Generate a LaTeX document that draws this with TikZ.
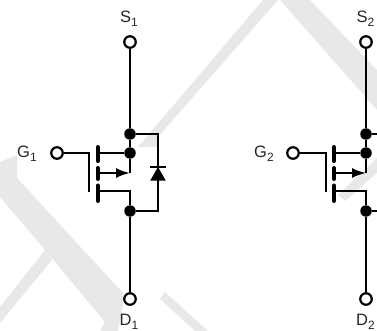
\documentclass[tikz,border=0pt]{standalone}
\usepackage{fontspec}
\setmainfont{Liberation Sans}
\usetikzlibrary{arrows.meta}
\definecolor{markgray}{RGB}{232,232,232}
\newcommand{\pinsub}[1]{\raisebox{-3.5pt}{\fontsize{12}{12}\selectfont #1}}
\tikzset{
    wire/.style={line width=2pt},
    plate/.style={line width=4pt, line cap=round},
    terminal/.style={circle, draw, line width=2.2pt, fill=white, minimum size=11.5pt, inner sep=0pt},
    junction/.style={circle, fill=black, minimum size=11.5pt, inner sep=0pt},
    pinlabel/.style={font=\fontsize{16.5}{16.5}\selectfont, inner sep=0pt, text=black!85},
}
\begin{document}
\begin{tikzpicture}[x=1pt, y=-1pt]
    \useasboundingbox (0,0) rectangle (377,331);

    % Watermark bands
    \fill[markgray] (0,162) -- (17,155) -- (17,178) -- (123,293) -- (123,305) -- (118,331)
        -- (100,331) -- (105,322) -- (45,250) -- (0,197) -- cycle;
    \fill[markgray] (45,250) -- (0,307) -- (0,323) -- (52,260) -- cycle;
    \fill[markgray] (160,299) -- (165,292) -- (208,331) -- (195,331) -- cycle;
    \fill[markgray] (263,0) -- (278,0) -- (157,138) -- (157,147) -- (138,147) -- cycle;
    \fill[markgray] (280,0) -- (310,0) -- (377,70) -- (377,110) -- cycle;
    \fill[markgray] (338,195) -- (377,158) -- (377,173) -- (345,201) -- cycle;

    % First transistor
    \node[terminal] (S1) at (130,42) {};
    \node[terminal] (D1) at (130,299) {};
    \node[terminal] (G1) at (57,153) {};
    \node[junction] (top1) at (130,134) {};
    \node[junction] (mid1) at (130,153) {};
    \node[junction] (bot1) at (130,211) {};
    \node[pinlabel] (S1text) at (129,18.5) {S\pinsub{1}};
    \node[pinlabel] (D1text) at (129,322) {D\pinsub{1}};
    \node[pinlabel] (G1text) at (27,153.5) {G\pinsub{1}};

    \coordinate (gate1) at (89,153);
    \coordinate (gateend1) at (89,192);
    \coordinate (chan1) at (98,173);
    \coordinate (chanend1) at (130,173);
    \coordinate (drain1) at (98,191);
    \coordinate (side1) at (130,191);
    \coordinate (diodetop1) at (158,134);
    \coordinate (diodebot1) at (158,211);

    \draw[wire] (S1) -- (top1) -- (mid1) -- (chanend1);
    \draw[wire] (bot1) -- (D1);
    \draw[wire] (G1) -- (gate1) -- (gateend1);
    \draw[wire] (98,153) -- (mid1);
    \draw[wire, -{Latex[length=14pt,width=10pt]}] (chan1) -- (chanend1);
    \draw[wire] (drain1) -- (side1) -- (bot1);
    \draw[plate] (97.7,147) -- (97.7,161);
    \draw[plate] (97.7,168) -- (97.7,179);
    \draw[plate] (97.7,185.5) -- (97.7,201);

    % Body diode
    \draw[wire] (top1) -- (diodetop1) -- (diodebot1) -- (bot1);
    \fill (158,167) -- (150.3,180.5) -- (165.7,180.5) -- cycle;
    \draw[wire] (150,167) -- (166,167);

    % Second transistor
    \node[terminal] (S2) at (366,42) {};
    \node[terminal] (D2) at (366,299) {};
    \node[terminal] (G2) at (293,153) {};
    \node[junction] (top2) at (366,134) {};
    \node[junction] (mid2) at (366,153) {};
    \node[junction] (bot2) at (366,211) {};
    \node[pinlabel] (S2text) at (365.5,18.5) {S\pinsub{2}};
    \node[pinlabel] (D2text) at (365.5,322) {D\pinsub{2}};
    \node[pinlabel] (G2text) at (264,153.5) {G\pinsub{2}};

    \coordinate (gate2) at (326,153);
    \coordinate (gateend2) at (326,192);
    \coordinate (chan2) at (334,173);
    \coordinate (chanend2) at (366,173);
    \coordinate (drain2) at (334,191);
    \coordinate (side2) at (366,191);

    \draw[wire] (S2) -- (top2) -- (mid2) -- (chanend2);
    \draw[wire] (bot2) -- (D2);
    \draw[wire] (G2) -- (gate2) -- (gateend2);
    \draw[wire] (334,153) -- (mid2);
    \draw[wire, -{Latex[length=14pt,width=10pt]}] (chan2) -- (chanend2);
    \draw[wire] (drain2) -- (side2) -- (bot2);
    \draw[plate] (334,147) -- (334,161);
    \draw[plate] (334,168) -- (334,179);
    \draw[plate] (334,185.5) -- (334,201);

    % Stubs running off the edge
    \draw[wire] (top2) -- (377,134);
    \draw[wire] (bot2) -- (377,211);
\end{tikzpicture}
\end{document}
